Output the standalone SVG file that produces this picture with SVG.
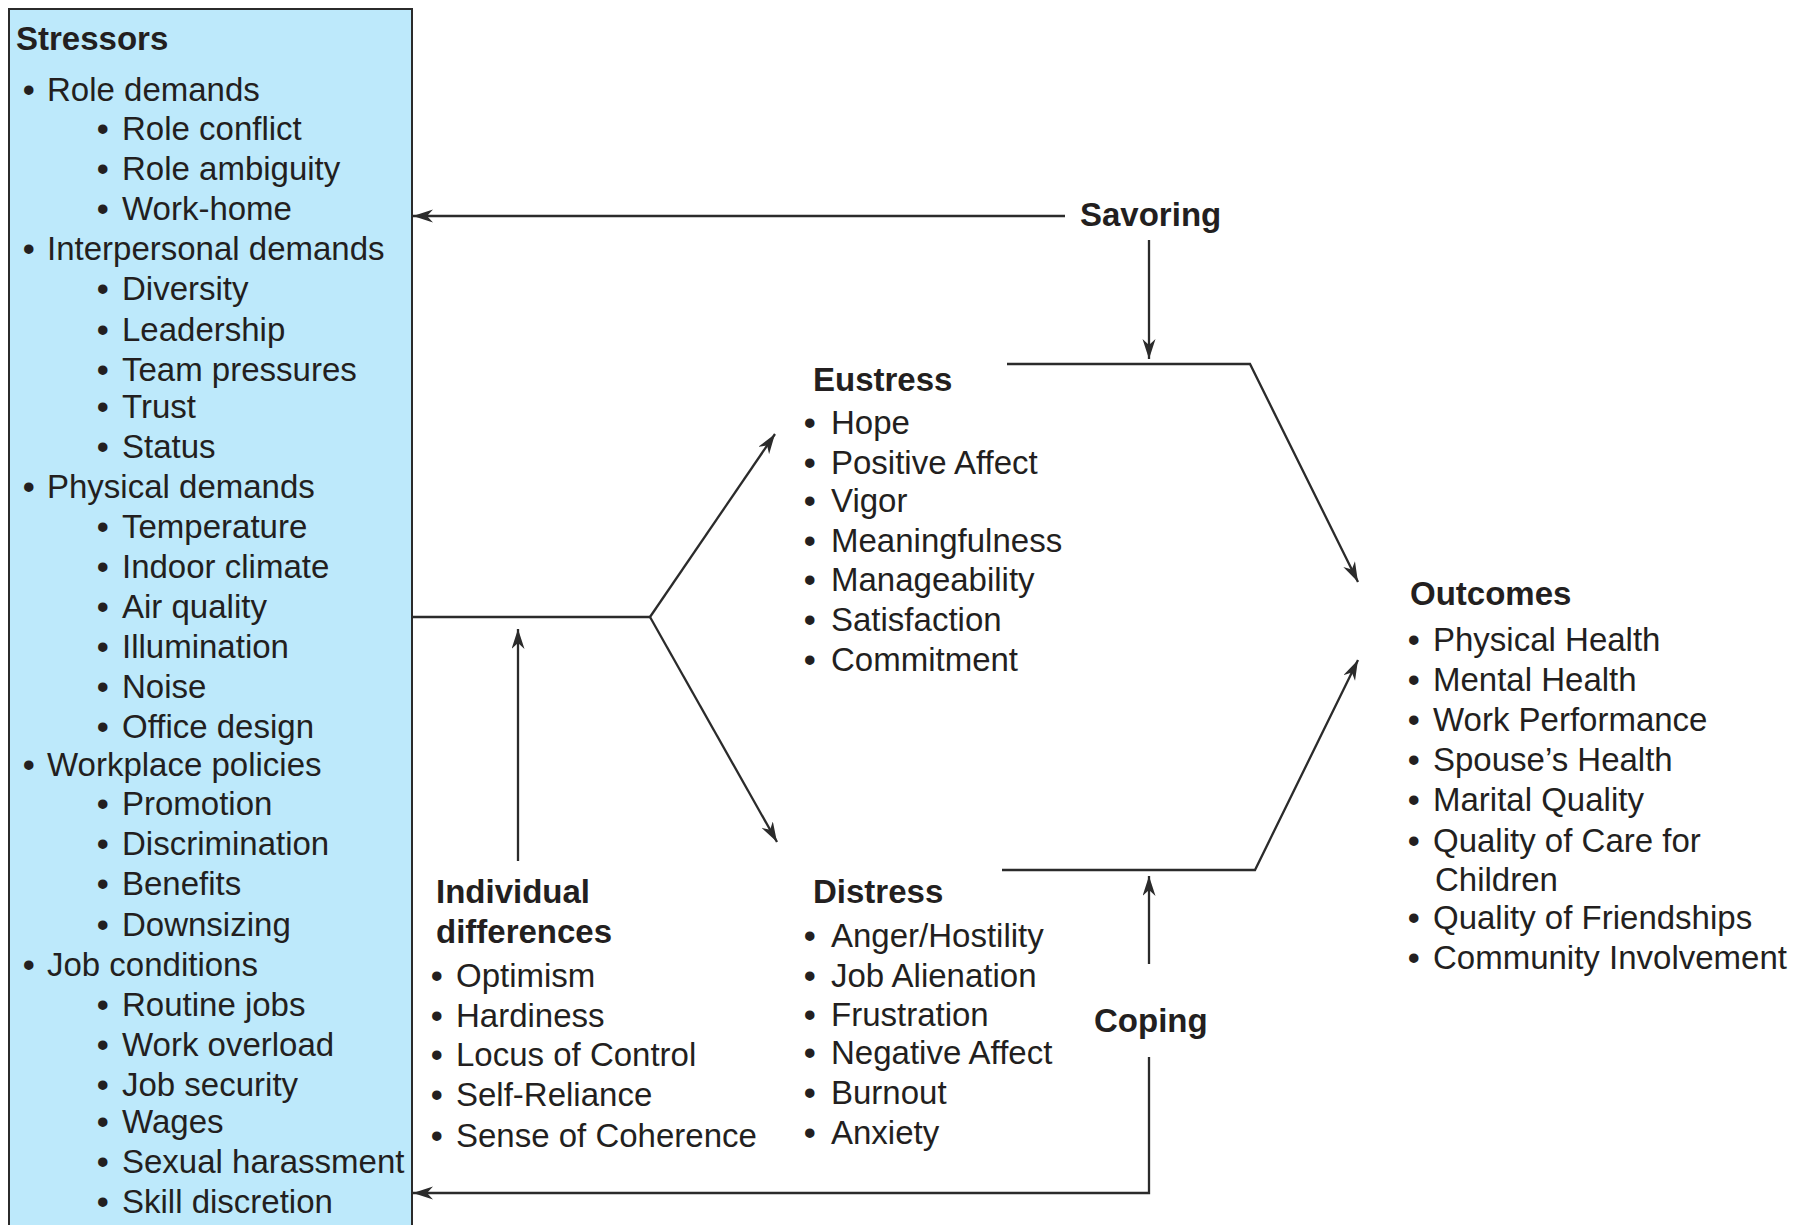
<svg xmlns="http://www.w3.org/2000/svg" width="1800" height="1225" viewBox="0 0 1800 1225">
<style>
text{font-family:"Liberation Sans",Arial,sans-serif;font-size:33px;fill:#231f20}
.h{font-weight:bold}
.b{font-weight:bold}
.ln{fill:none;stroke:#2b2b2b;stroke-width:2.3}
</style>
<defs>
<marker id="ar" markerUnits="userSpaceOnUse" markerWidth="22" markerHeight="14" refX="20" refY="6.5" orient="auto">
<path d="M0,0 L20,6.5 L0,13 L6,6.5 z" fill="#2b2b2b"/>
</marker>
</defs>
<rect width="1800" height="1225" fill="#fff"/>
<g id="stressors">
<rect x="9" y="9" width="403" height="1240" fill="#bde9fb" stroke="#2b2b2b" stroke-width="2"/>
<text class="h" x="16" y="50">Stressors</text>
<text y="101"><tspan class="b" x="23">•</tspan><tspan x="47">Role demands</tspan></text>
<text y="140"><tspan class="b" x="97">•</tspan><tspan x="122">Role conflict</tspan></text>
<text y="180"><tspan class="b" x="97">•</tspan><tspan x="122">Role ambiguity</tspan></text>
<text y="220"><tspan class="b" x="97">•</tspan><tspan x="122">Work-home</tspan></text>
<text y="260"><tspan class="b" x="23">•</tspan><tspan x="47">Interpersonal demands</tspan></text>
<text y="300"><tspan class="b" x="97">•</tspan><tspan x="122">Diversity</tspan></text>
<text y="341"><tspan class="b" x="97">•</tspan><tspan x="122">Leadership</tspan></text>
<text y="381"><tspan class="b" x="97">•</tspan><tspan x="122">Team pressures</tspan></text>
<text y="418"><tspan class="b" x="97">•</tspan><tspan x="122">Trust</tspan></text>
<text y="458"><tspan class="b" x="97">•</tspan><tspan x="122">Status</tspan></text>
<text y="498"><tspan class="b" x="23">•</tspan><tspan x="47">Physical demands</tspan></text>
<text y="538"><tspan class="b" x="97">•</tspan><tspan x="122">Temperature</tspan></text>
<text y="578"><tspan class="b" x="97">•</tspan><tspan x="122">Indoor climate</tspan></text>
<text y="618"><tspan class="b" x="97">•</tspan><tspan x="122">Air quality</tspan></text>
<text y="658"><tspan class="b" x="97">•</tspan><tspan x="122">Illumination</tspan></text>
<text y="698"><tspan class="b" x="97">•</tspan><tspan x="122">Noise</tspan></text>
<text y="738"><tspan class="b" x="97">•</tspan><tspan x="122">Office design</tspan></text>
<text y="776"><tspan class="b" x="23">•</tspan><tspan x="47">Workplace policies</tspan></text>
<text y="815"><tspan class="b" x="97">•</tspan><tspan x="122">Promotion</tspan></text>
<text y="855"><tspan class="b" x="97">•</tspan><tspan x="122">Discrimination</tspan></text>
<text y="895"><tspan class="b" x="97">•</tspan><tspan x="122">Benefits</tspan></text>
<text y="936"><tspan class="b" x="97">•</tspan><tspan x="122">Downsizing</tspan></text>
<text y="976"><tspan class="b" x="23">•</tspan><tspan x="47">Job conditions</tspan></text>
<text y="1016"><tspan class="b" x="97">•</tspan><tspan x="122">Routine jobs</tspan></text>
<text y="1056"><tspan class="b" x="97">•</tspan><tspan x="122">Work overload</tspan></text>
<text y="1096"><tspan class="b" x="97">•</tspan><tspan x="122">Job security</tspan></text>
<text y="1133"><tspan class="b" x="97">•</tspan><tspan x="122">Wages</tspan></text>
<text y="1173"><tspan class="b" x="97">•</tspan><tspan x="122">Sexual harassment</tspan></text>
<text y="1213"><tspan class="b" x="97">•</tspan><tspan x="122">Skill discretion</tspan></text>
</g>
<g id="eustress">
<text class="h" x="813" y="391">Eustress</text>
<text y="434"><tspan class="b" x="804">•</tspan><tspan x="831">Hope</tspan></text>
<text y="474"><tspan class="b" x="804">•</tspan><tspan x="831">Positive Affect</tspan></text>
<text y="512"><tspan class="b" x="804">•</tspan><tspan x="831">Vigor</tspan></text>
<text y="552"><tspan class="b" x="804">•</tspan><tspan x="831">Meaningfulness</tspan></text>
<text y="591"><tspan class="b" x="804">•</tspan><tspan x="831">Manageability</tspan></text>
<text y="631"><tspan class="b" x="804">•</tspan><tspan x="831">Satisfaction</tspan></text>
<text y="671"><tspan class="b" x="804">•</tspan><tspan x="831">Commitment</tspan></text>
</g>
<g id="distress">
<text class="h" x="813" y="903">Distress</text>
<text y="947"><tspan class="b" x="804">•</tspan><tspan x="831">Anger/Hostility</tspan></text>
<text y="987"><tspan class="b" x="804">•</tspan><tspan x="831">Job Alienation</tspan></text>
<text y="1026"><tspan class="b" x="804">•</tspan><tspan x="831">Frustration</tspan></text>
<text y="1064"><tspan class="b" x="804">•</tspan><tspan x="831">Negative Affect</tspan></text>
<text y="1104"><tspan class="b" x="804">•</tspan><tspan x="831">Burnout</tspan></text>
<text y="1144"><tspan class="b" x="804">•</tspan><tspan x="831">Anxiety</tspan></text>
</g>
<g id="individual">
<text class="h" x="436" y="903">Individual</text>
<text class="h" x="436" y="943">differences</text>
<text y="987"><tspan class="b" x="431">•</tspan><tspan x="456">Optimism</tspan></text>
<text y="1027"><tspan class="b" x="431">•</tspan><tspan x="456">Hardiness</tspan></text>
<text y="1066"><tspan class="b" x="431">•</tspan><tspan x="456">Locus of Control</tspan></text>
<text y="1106"><tspan class="b" x="431">•</tspan><tspan x="456">Self-Reliance</tspan></text>
<text y="1147"><tspan class="b" x="431">•</tspan><tspan x="456">Sense of Coherence</tspan></text>
</g>
<g id="outcomes">
<text class="h" x="1410" y="605">Outcomes</text>
<text y="651"><tspan class="b" x="1408">•</tspan><tspan x="1433">Physical Health</tspan></text>
<text y="691"><tspan class="b" x="1408">•</tspan><tspan x="1433">Mental Health</tspan></text>
<text y="731"><tspan class="b" x="1408">•</tspan><tspan x="1433">Work Performance</tspan></text>
<text y="771"><tspan class="b" x="1408">•</tspan><tspan x="1433">Spouse’s Health</tspan></text>
<text y="811"><tspan class="b" x="1408">•</tspan><tspan x="1433">Marital Quality</tspan></text>
<text y="852"><tspan class="b" x="1408">•</tspan><tspan x="1433">Quality of Care for</tspan></text>
<text x="1435" y="891">Children</text>
<text y="929"><tspan class="b" x="1408">•</tspan><tspan x="1433">Quality of Friendships</tspan></text>
<text y="969"><tspan class="b" x="1408">•</tspan><tspan x="1433">Community Involvement</tspan></text>
</g>
<g id="savoring">
<text class="h" x="1080" y="226">Savoring</text>
</g>
<g id="coping">
<text class="h" x="1094" y="1032">Coping</text>
</g>
<g id="connectors">
<path class="ln" d="M1065,216 L413,216" marker-end="url(#ar)"/>
<path class="ln" d="M1149,240 L1149,359" marker-end="url(#ar)"/>
<path class="ln" d="M1007,364 L1250,364 L1358,582" marker-end="url(#ar)"/>
<path class="ln" d="M412,617 L650,617"/>
<path class="ln" d="M650,617 L775,434" marker-end="url(#ar)"/>
<path class="ln" d="M650,617 L777,842" marker-end="url(#ar)"/>
<path class="ln" d="M518,861 L518,629" marker-end="url(#ar)"/>
<path class="ln" d="M1002,870 L1255,870 L1358,660" marker-end="url(#ar)"/>
<path class="ln" d="M1149,964 L1149,876" marker-end="url(#ar)"/>
<path class="ln" d="M1149,1057 L1149,1193 L413,1193" marker-end="url(#ar)"/>
</g>
</svg>
